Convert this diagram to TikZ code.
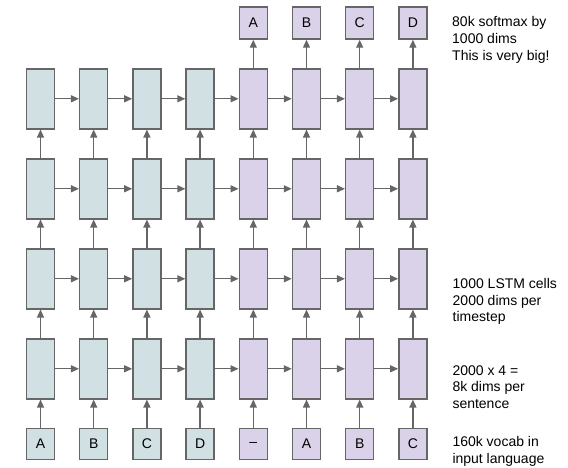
\documentclass[tikz,border=0pt]{standalone}
\usepackage{fontspec}
\setmainfont{Liberation Sans}
\usetikzlibrary{arrows.meta}
\definecolor{encfill}{HTML}{D0E0E3}
\definecolor{decfill}{HTML}{D9D2E9}
\definecolor{edgegray}{HTML}{666666}

\tikzset{
  cell/.style={draw=edgegray, line width=1.5pt, minimum width=28pt, minimum height=60pt, inner sep=0pt},
  tok/.style={draw=edgegray, line width=1.5pt, minimum width=28pt, minimum height=31pt, inner sep=0pt, font=\fontsize{14}{16}\selectfont},
  link/.style={draw=edgegray, line width=1.3pt, -{Triangle[length=8pt,width=7pt]}},
  note/.style={anchor=base west, align=left, inner sep=0pt, font=\fontsize{14}{16.7}\selectfont}
}

\begin{document}
\begin{tikzpicture}[x=1pt, y=-1pt]
  \useasboundingbox (0,0) rectangle (568,468);

  % LSTM stack: 4 layers, 8 time steps
  \foreach \c/\f/\inp in {1/encfill/A, 2/encfill/B, 3/encfill/C, 4/encfill/D,
                          5/decfill/--, 6/decfill/A, 7/decfill/B, 8/decfill/C} {
    \foreach \r in {1,...,4}
      \node[cell, fill=\f] (cell\r\c) at ({40.5+53.2*(\c-1)}, {98.8+90*(\r-1)}) {};
    \node[tok, fill=\f] (in\c) at ({40.5+53.2*(\c-1)}, 444) {\inp};
  }

  % softmax outputs
  \foreach \c/\outp in {5/A, 6/B, 7/C, 8/D}
    \node[tok, fill=decfill, minimum height=32pt] (out\c) at ({40.5+53.2*(\c-1)}, 23) {\outp};

  % recurrent links
  \foreach \r in {1,...,4}
    \foreach \c/\nxt in {1/2, 2/3, 3/4, 4/5, 5/6, 6/7, 7/8}
      \draw[link] (cell\r\c.east) -- (cell\r\nxt.west);

  % upward links
  \foreach \c in {1,...,8} {
    \draw[link] (in\c.north) -- (cell4\c.south);
    \foreach \r/\up in {2/1, 3/2, 4/3}
      \draw[link] (cell\r\c.north) -- (cell\up\c.south);
  }
  \foreach \c in {5,...,8}
    \draw[link] (cell1\c.north) -- (out\c.south);

  % side notes (anchored at the baseline of the last line)
  \node[note] (softmaxnote) at (452, 60.1) {80k softmax by\\1000 dims\\This is very big!};
  \node[note] (lstmnote) at (452.5, 321.7) {1000 LSTM cells\\2000 dims per\\timestep};
  \node[note] (dimnote) at (452.3, 408.6) {2000 x 4 =\\8k dims per\\sentence};
  \node[note] (vocabnote) at (452.3, 463.3) {160k vocab in\\input language};
\end{tikzpicture}
\end{document}
